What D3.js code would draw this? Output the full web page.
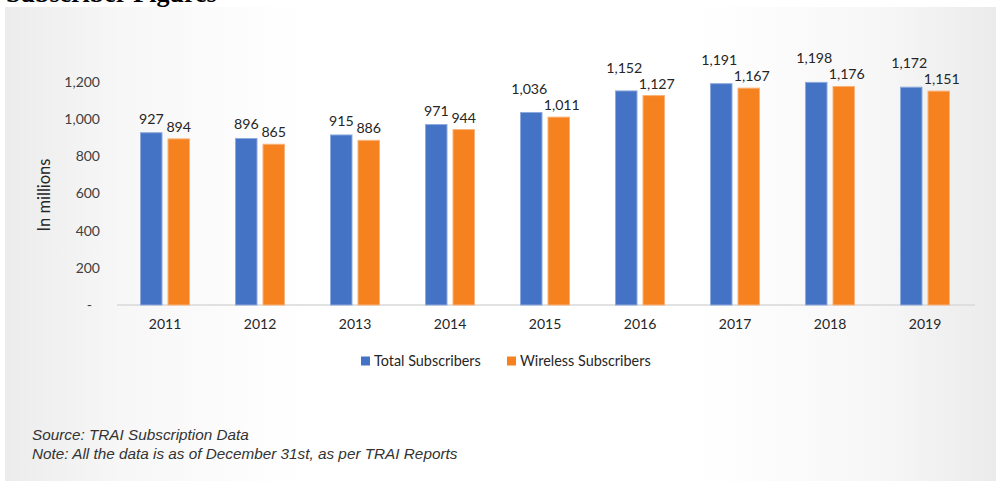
<!DOCTYPE html>
<html><head><meta charset="utf-8">
<script src="https://cdn.jsdelivr.net/npm/d3@7"></script>
<style>html,body{margin:0;padding:0;background:#fff;overflow:hidden}</style>
</head><body>
<svg id="c" width="996" height="481"></svg>
<script>
const years = ["2011","2012","2013","2014","2015","2016","2017","2018","2019"];
const totalSubscribers = [927, 896, 915, 971, 1036, 1152, 1191, 1198, 1172];
const wirelessSubscribers = [894, 865, 886, 944, 1011, 1127, 1167, 1176, 1151];
const seriesNames = ["Total Subscribers", "Wireless Subscribers"];
const seriesColors = ["#4472C4", "#F5821F"];
const seriesStrokes = ["#8EA9DB", "#F9B27A"];
const yTicks = [0, 200, 400, 600, 800, 1000, 1200];
const titleText = "Subscriber Figures";
const yAxisTitle = "In millions";
const notes = ["Source: TRAI Subscription Data", "Note: All the data is as of December 31st, as per TRAI Reports"];

const svg = d3.select("#c");
const W = 996, H = 481;
const fontUI = "Lato, 'Open Sans', sans-serif";

const defs = svg.append("defs");
const g = defs.append("linearGradient").attr("id","bg").attr("x1","0").attr("x2","1").attr("y1","0").attr("y2","0");
[[0,"#ececec"],[0.12,"#f7f7f7"],[0.3,"#ffffff"],[0.7,"#ffffff"],[0.88,"#f7f7f7"],[1,"#ebebeb"]]
  .forEach(([o,c]) => g.append("stop").attr("offset", o).attr("stop-color", c));
svg.append("rect").attr("x",5).attr("y",7).attr("width",W-5).attr("height",H-7).attr("fill","url(#bg)");

svg.append("text").attr("x",6).attr("y",2).attr("font-family","'Liberation Serif', 'Times New Roman', serif")
  .attr("font-weight","bold").attr("font-size",26).attr("fill","#000").text(titleText);

const x0 = d3.scaleBand().domain(years).range([117.5, 972.5]);
const x1 = d3.scaleBand().domain(seriesNames).range([-24.5, 24.5]).paddingInner(0.218);
const y = d3.scaleLinear().domain([0, 1200]).range([305, 82]);

const yAxis = d3.axisLeft(y).tickValues(yTicks).tickSize(0).tickPadding(0)
  .tickFormat(d => d === 0 ? "-" : d3.format(",")(d));
const ya = svg.append("g").attr("transform","translate(100,0)").call(yAxis);
ya.select(".domain").remove();
ya.selectAll("text").attr("font-family", fontUI).attr("font-size", 14).attr("fill","#404040");
ya.selectAll(".tick").filter(d => d === 0).select("text").attr("dx", -8);

const xAxis = d3.axisBottom(x0).tickSize(0).tickPadding(14);
const xa = svg.append("g").attr("transform","translate(0,305)").call(xAxis);
xa.select(".domain").attr("stroke","#d9d9d9").attr("stroke-width",1.5).attr("d","M117,0H975");
xa.selectAll("text").attr("font-family", fontUI).attr("font-size", 14).attr("fill","#262626");

svg.append("text").attr("transform","translate(50,195) rotate(-90)").attr("text-anchor","middle")
  .attr("font-family", fontUI).attr("font-size", 16.5).attr("fill","#262626").text(yAxisTitle);

const data = years.map((yr,i) => ({year: yr, vals: [totalSubscribers[i], wirelessSubscribers[i]]}));
const fmt = d3.format(",");

const grp = svg.append("g").selectAll("g").data(data).join("g")
  .attr("transform", d => `translate(${x0(d.year) + x0.bandwidth()/2},0)`);

grp.selectAll("rect").data(d => d.vals.map((v,j) => ({v, j}))).join("rect")
  .attr("x", d => x1(seriesNames[d.j]))
  .attr("width", x1.bandwidth())
  .attr("y", d => y(d.v))
  .attr("height", d => y(0) - y(d.v))
  .attr("fill", d => seriesColors[d.j])
  .attr("stroke", d => seriesStrokes[d.j]).attr("stroke-width", 1);

grp.each(function(d) {
  const gg = d3.select(this);
  const labs = d.vals.map((v,j) => gg.append("text")
    .attr("x", x1(seriesNames[j]) + x1.bandwidth()/2)
    .attr("y", y(v) - (j === 0 ? 9 : 7))
    .attr("text-anchor","middle").attr("font-family", fontUI).attr("font-size", 14.2)
    .attr("fill","#262626").text(fmt(v)));
  const b0 = labs[0].node().getBBox(), b1 = labs[1].node().getBBox();
  if (b0.x + b0.width > b1.x + 1) {
    const ob = +labs[1].attr("y");
    labs[0].attr("y", Math.min(+labs[0].attr("y"), ob - 16)).attr("dx", -2);
    labs[1].attr("dx", 3);
  }
});

const leg = svg.append("g").attr("transform","translate(361,361)");
const legX = [0, 146];
seriesNames.forEach((n,i) => {
  leg.append("rect").attr("x", legX[i]).attr("y", -4.5).attr("width", 9).attr("height", 9).attr("fill", seriesColors[i]);
  leg.append("text").attr("x", legX[i] + 13).attr("y", 5).attr("font-family", fontUI).attr("font-size", 14.4)
    .attr("fill","#262626").text(n);
});

notes.forEach((t,i) => svg.append("text").attr("x", 32).attr("y", 440 + i*19)
  .attr("font-family","'Liberation Sans', Arial, sans-serif").attr("font-style","italic").attr("font-size", 15.3)
  .attr("fill","#333").text(t));
</script>
</body></html>
